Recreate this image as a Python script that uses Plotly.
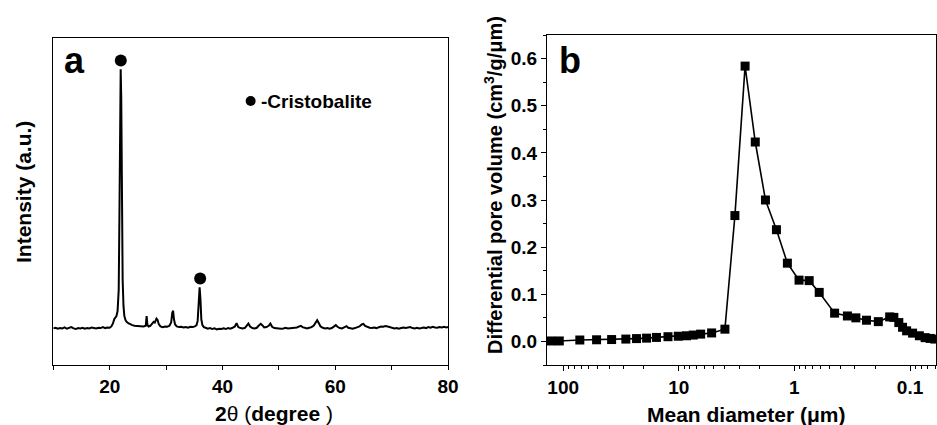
import numpy as np
import plotly.graph_objects as go

# ---------------- Panel a: XRD pattern ----------------
two_theta = [10.0, 10.4, 10.8, 11.2, 11.6, 12.0, 12.4, 12.8, 13.2, 13.6, 14.0, 14.4, 14.8, 15.2, 15.6,
             16.0, 16.4, 16.8, 17.2, 17.6, 18.0, 18.4, 18.8, 19.2, 19.6, 20.0, 20.3, 20.6, 20.8, 21.0,
             21.2, 21.4, 21.6, 21.75, 21.85, 21.95, 22.05, 22.15, 22.3, 22.45, 22.6, 22.8, 23.0, 23.3,
             23.6, 24.0, 24.4, 24.8, 25.2, 25.6, 26.0, 26.4, 26.55, 26.7, 26.9, 27.2, 27.5, 27.8, 28.0,
             28.3, 28.5, 28.7, 29.0, 29.4, 29.8, 30.2, 30.6, 30.9, 31.1, 31.25, 31.4, 31.6, 31.9, 32.3,
             32.7, 33.1, 33.5, 33.9, 34.3, 34.7, 35.1, 35.4, 35.6, 35.8, 35.95, 36.1, 36.25, 36.45, 36.7,
             37.0, 37.4, 37.8, 38.2, 38.6, 39.0, 39.4, 39.8, 40.2, 40.6, 41.0, 41.4, 41.8, 42.2, 42.5,
             42.8, 43.2, 43.6, 44.0, 44.3, 44.6, 44.9, 45.3, 45.7, 46.1, 46.4, 46.8, 47.1, 47.4, 47.8,
             48.2, 48.5, 48.8, 49.2, 49.6, 50.0, 50.4, 50.8, 51.2, 51.6, 52.0, 52.4, 52.8, 53.2, 53.6,
             53.9, 54.2, 54.6, 55.0, 55.4, 55.8, 56.2, 56.5, 56.8, 57.1, 57.4, 57.8, 58.2, 58.6, 59.0,
             59.4, 59.8, 60.1, 60.4, 60.8, 61.2, 61.6, 62.0, 62.3, 62.7, 63.1, 63.5, 63.9, 64.3, 64.7,
             65.0, 65.3, 65.7, 66.1, 66.5, 66.9, 67.3, 67.7, 68.1, 68.5, 68.9, 69.3, 69.7, 70.1, 70.5,
             70.9, 71.3, 71.7, 72.1, 72.5, 72.9, 73.3, 73.7, 74.1, 74.5, 74.9, 75.3, 75.7, 76.1, 76.5,
             76.9, 77.3, 77.7, 78.1, 78.5, 78.9, 79.3, 79.7, 80.0]
intensity = [112, 114, 111, 113, 112, 115, 111, 113, 116, 112, 110, 113, 112, 114, 111,
             113, 112, 115, 113, 112, 114, 113, 116, 113, 115, 114, 118, 128, 140, 145,
             150, 165, 230, 500, 880, 905, 820, 520, 260, 180, 150, 138, 132, 128,
             125, 122, 120, 119, 118, 117, 118, 120, 150, 122, 118, 120, 126, 132, 130,
             142, 138, 125, 118, 116, 118, 117, 120, 130, 160, 166, 140, 124, 118, 116,
             117, 115, 116, 114, 117, 116, 118, 122, 135, 190, 238, 200, 140, 122, 116,
             114, 111, 113, 110, 112, 109, 111, 110, 112, 110, 113, 111, 114, 118, 128,
             116, 113, 112, 114, 120, 127, 118, 113, 112, 114, 120, 126, 121, 115, 116,
             120, 127, 117, 113, 112, 113, 111, 112, 114, 112, 113, 112, 114, 115, 118,
             120, 116, 113, 112, 114, 116, 121, 130, 137, 128, 118, 114, 112, 113, 111,
             113, 117, 122, 117, 113, 112, 115, 119, 114, 112, 111, 113, 115, 118, 124,
             126, 120, 116, 114, 113, 115, 113, 116, 118, 117, 119, 118, 116, 114, 112,
             113, 111, 113, 115, 113, 114, 116, 113, 112, 114, 112, 113, 115, 113, 116,
             114, 117, 115, 114, 116, 115, 117, 115, 116]
peak_theta = [21.97, 36.05]
peak_mark_y = [932, 265]

# ---------------- Panel b: pore size distribution ----------------
mean_diameter = [128, 108, 71.8, 51.4, 38.1, 28.7, 23.2, 19.0, 15.6, 12.4, 10.1, 8.57, 7.5, 6.47, 5.2,
                 3.99, 3.27, 2.67, 2.18, 1.78, 1.43, 1.15, 0.912, 0.745, 0.61, 0.449, 0.348, 0.294,
                 0.238, 0.188, 0.150, 0.138, 0.125, 0.116, 0.107, 0.095, 0.083, 0.074, 0.067, 0.061]
pore_volume = [0.001, 0.001, 0.003, 0.0035, 0.004, 0.005, 0.006, 0.007, 0.0085, 0.010, 0.011, 0.012,
               0.0135, 0.0155, 0.018, 0.026, 0.267, 0.584, 0.423, 0.300, 0.237, 0.166, 0.130, 0.129,
               0.104, 0.060, 0.054, 0.050, 0.045, 0.042, 0.052, 0.051, 0.040, 0.030, 0.0225, 0.0176,
               0.012, 0.008, 0.0064, 0.005]

x_ticks_a = [20, 40, 60, 80]
x_minor_a = [10, 30, 50, 70]
x_ticks_b = [100, 10, 1, 0.1]
x_ticktext_b = ["100", "10", "1", "0.1"]
y_ticks_b = [0.0, 0.1, 0.2, 0.3, 0.4, 0.5, 0.6]

FONT = "Liberation Sans, Arial, sans-serif"
W, H = 937, 425

fig = go.Figure()
fig.add_trace(go.Scatter(x=two_theta, y=intensity, mode="lines",
                         line=dict(color="black", width=2), xaxis="x", yaxis="y",
                         showlegend=False, hoverinfo="skip"))
fig.add_trace(go.Scatter(x=peak_theta, y=peak_mark_y, mode="markers",
                         marker=dict(symbol="circle", size=12, color="black"),
                         xaxis="x", yaxis="y", showlegend=False))
fig.add_trace(go.Scatter(x=[45.0], y=[808], mode="markers",
                         marker=dict(symbol="circle", size=10, color="black"),
                         xaxis="x", yaxis="y", showlegend=False))
fig.add_trace(go.Scatter(x=mean_diameter, y=pore_volume, mode="lines+markers",
                         line=dict(color="black", width=1.6),
                         marker=dict(symbol="square", size=9, color="black"),
                         xaxis="x2", yaxis="y2", showlegend=False))

minor_b = [m * 10.0 ** e for e in range(-2, 3) for m in range(2, 10)]

axis_common = dict(showline=True, linecolor="black", linewidth=1, mirror=True,
                   showgrid=False, zeroline=False, automargin=False,
                   tickfont=dict(family=FONT, size=19, color="black", weight="bold"),
                   tickcolor="black", tickwidth=1)

fig.update_layout(
    template="none",
    width=W, height=H,
    margin=dict(l=0, r=0, t=0, b=0, pad=0),
    paper_bgcolor="white", plot_bgcolor="white",
    xaxis=dict(domain=[53.3 / W, 448 / W], range=[10, 80], tickvals=x_ticks_a,
               ticks="outside", ticklen=4,
               minor=dict(tickvals=x_minor_a, ticks="outside", ticklen=4,
                          tickcolor="black", showgrid=False),
               anchor="y", **axis_common),
    yaxis=dict(domain=[(H - 365) / H, (H - 38.3) / H], range=[0, 1000],
               showticklabels=False, ticks="", anchor="x", **axis_common),
    xaxis2=dict(domain=[547 / W, 936 / W], type="log",
                range=[np.log10(138), np.log10(0.0596)],
                tickvals=x_ticks_b, ticktext=x_ticktext_b,
                ticks="outside", ticklen=5,
                minor=dict(tickvals=minor_b, ticks="outside", ticklen=3,
                           tickcolor="black", showgrid=False),
                anchor="y2", **axis_common),
    yaxis2=dict(domain=[(H - 365) / H, (H - 35) / H], range=[-0.05, 0.65],
                tickvals=y_ticks_b, tickformat=".1f",
                ticks="outside", ticklen=5,
                minor=dict(dtick=0.05, ticks="outside", ticklen=3,
                           tickcolor="black", showgrid=False),
                anchor="x2", **axis_common),
)

title_font = dict(family=FONT, size=21, color="black")
annots = [
    dict(text="<b>Intensity (a.u.)</b>", x=23 / W, y=(H - 192) / H, textangle=-90,
         font=title_font),
    dict(text="<b>2</b>θ (<b>degree</b> )", x=274 / W, y=(H - 413) / H, font=title_font),
    dict(text="<b>Mean diameter (μm)</b>", x=746 / W, y=(H - 414) / H, font=title_font),
    dict(text="<b>Differential pore volume (cm<sup>3</sup>/g/μm)</b>", x=493 / W,
         y=(H - 185) / H, textangle=-90, font=dict(family=FONT, size=20, color="black")),
    dict(text="<b>a</b>", x=74 / W, y=(H - 60) / H, font=dict(family=FONT, size=36, color="black")),
    dict(text="<b>b</b>", x=570 / W, y=(H - 60) / H, font=dict(family=FONT, size=36, color="black")),
]
for a in annots:
    a.update(xref="paper", yref="paper", showarrow=False, xanchor="center", yanchor="middle")
    fig.add_annotation(**a)

fig.add_annotation(text="<b>-Cristobalite</b>", x=46.5, y=808, xref="x", yref="y",
                   xanchor="left", yanchor="middle", showarrow=False,
                   font=dict(family=FONT, size=19, color="black"))

fig.write_html("out.html", config={"displayModeBar": False},
               post_script="document.body.style.margin='0';document.body.style.overflow='hidden';")
